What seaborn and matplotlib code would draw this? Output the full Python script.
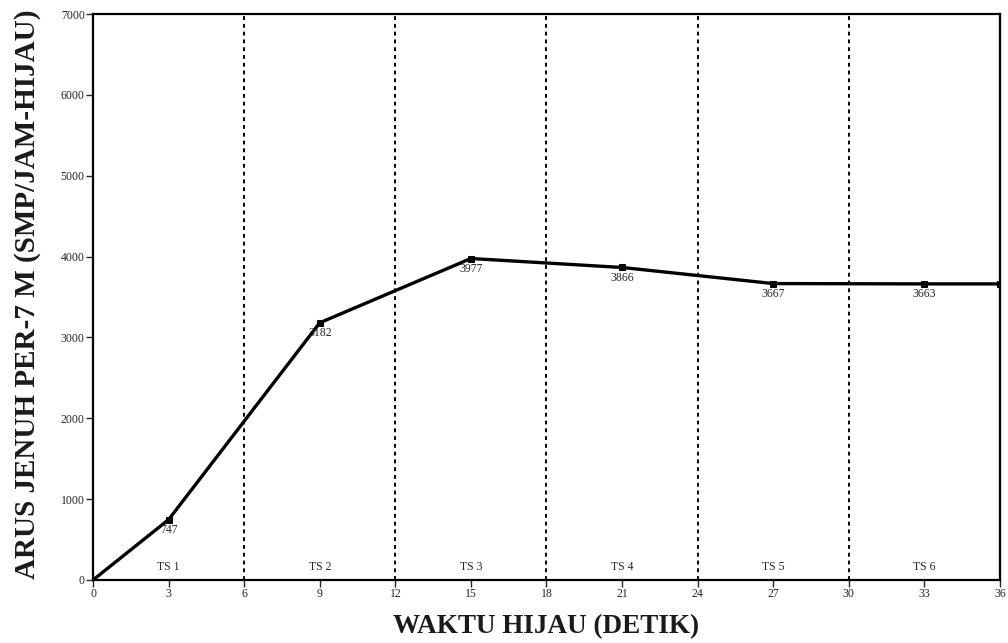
import matplotlib
matplotlib.use("Agg")
import matplotlib.pyplot as plt
import seaborn as sns
import pandas as pd

# Green time (s) and saturation flow per 7 m approach
green_time = [0, 3, 9, 15, 21, 27, 33, 36]
sat_flow = [0, 747, 3182, 3977, 3866, 3667, 3663, 3663]
flow_labels = ["", "747", "3182", "3977", "3866", "3667", "3663", ""]

phase_x = [3, 9, 15, 21, 27, 33]
phase_labels = ["TS 1", "TS 2", "TS 3", "TS 4", "TS 5", "TS 6"]
phase_bounds = [6, 12, 18, 24, 30]

x_ticks = list(range(0, 37, 3))
y_ticks = list(range(0, 7001, 1000))

sns.set_style("ticks")
plt.rcParams["font.family"] = ["Liberation Serif", "DejaVu Serif"]

df = pd.DataFrame({"waktu": green_time, "arus": sat_flow})

fig = plt.figure(figsize=(10.08, 6.43), dpi=100)
ax = fig.add_axes([0.0923, 0.098, 0.8997, 0.880])

sns.lineplot(data=df, x="waktu", y="arus", ax=ax, color="black",
             linewidth=2.4, marker="s", markersize=5, markeredgecolor="black",
             zorder=3)

for xb in phase_bounds:
    ax.axvline(xb, color="black", linestyle=(0, (2, 2)), linewidth=1.4, zorder=1)

for x, y, t in zip(green_time, sat_flow, flow_labels):
    if t:
        ax.annotate(t, (x, y), xytext=(0, -3), textcoords="offset points",
                    ha="center", va="top", fontsize=8.5)

for x, t in zip(phase_x, phase_labels):
    ax.text(x, 90, t, ha="center", va="bottom", fontsize=8.5)

ax.set_xlim(0, 36)
ax.set_ylim(0, 7000)
ax.set_xticks(x_ticks)
ax.set_yticks(y_ticks)
ax.tick_params(axis="both", labelsize=8.5, length=5, width=1, direction="out", pad=1)
for s in ax.spines.values():
    s.set_visible(True)
    s.set_linewidth(1.6)
    s.set_color("black")

ax.set_xlabel("WAKTU HIJAU (DETIK)", fontsize=19.5, fontweight="bold", color="#1a1a1a")
ax.set_ylabel("ARUS JENUH PER-7 M (SMP/JAM-HIJAU)", fontsize=21,
              fontweight="bold", color="#1a1a1a")
ax.xaxis.set_label_coords(0.5, -0.082)
ax.yaxis.set_label_coords(-0.072, 0.505)
ax.xaxis.label.set_va("center")
ax.yaxis.label.set_va("center")

fig.savefig("out.png", dpi=100)
